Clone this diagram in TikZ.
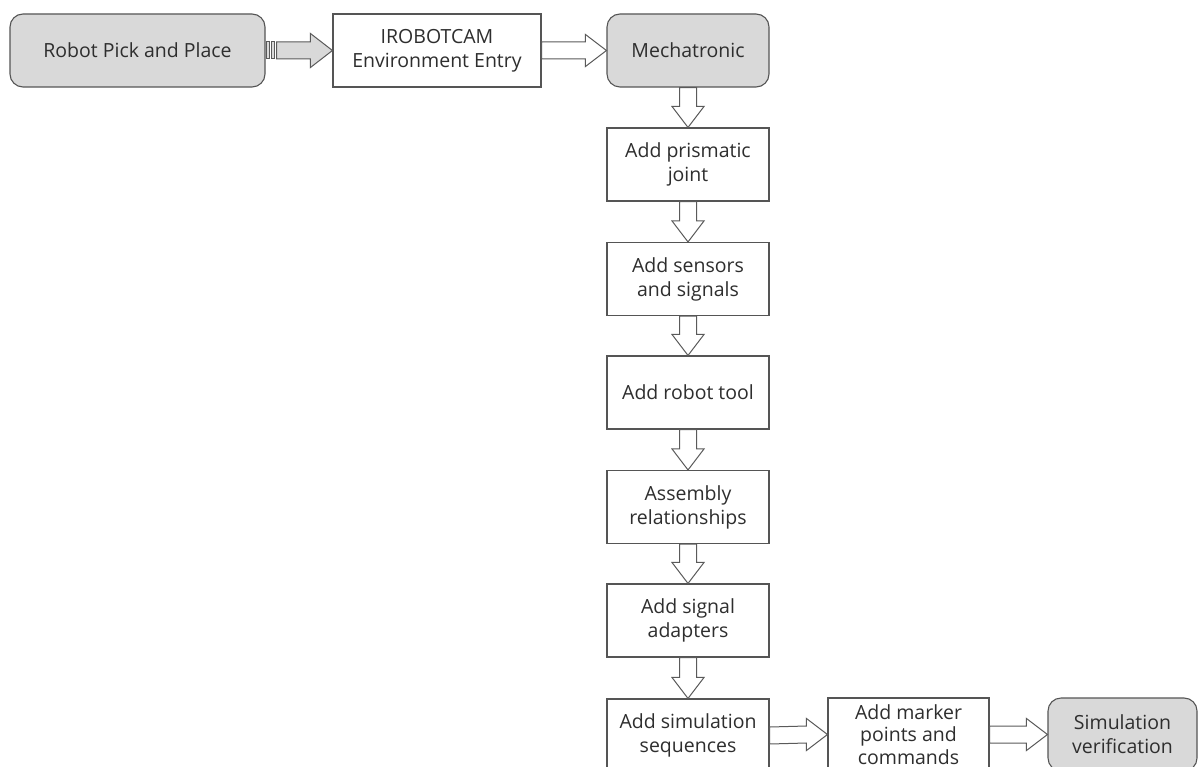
\documentclass[tikz,border=0pt]{standalone}
\usepackage{fontspec}
\setmainfont{Open Sans}
\usetikzlibrary{calc}
\definecolor{boxline}{HTML}{555555}
\definecolor{boxgray}{HTML}{D9D9D9}
\definecolor{arrline}{HTML}{5A5A5A}
\definecolor{txt}{HTML}{2E2E2E}
\tikzset{
  base/.style={draw=boxline, line width=1.1pt, align=center, text=txt,
    font=\fontsize{19.5}{24}\selectfont, inner sep=0pt, anchor=center},
  stepbox/.style={base, fill=white, rectangle},
  endbox/.style={base, fill=boxgray, rounded corners=13pt},
  blockarrow/.style={draw=arrline, line width=1pt, fill=white, line join=miter},
  stripearrow/.style={draw=arrline, line width=1pt, fill=boxgray},
}
% horizontal block arrow from #1.east to #2.west
\newcommand{\harrow}[2]{%
  \draw[blockarrow] ($(#1.east)+(0,-8.5)$) -- ($(#2.west)+(-21,-8.5)$)
    -- ($(#2.west)+(-21,-16)$) -- (#2.west) -- ($(#2.west)+(-21,16)$)
    -- ($(#2.west)+(-21,8.5)$) -- ($(#1.east)+(0,8.5)$) -- cycle;}
% vertical block arrow from #1.south to #2.north
\newcommand{\varrow}[2]{%
  \draw[blockarrow] ($(#1.south)+(-8.5,0)$) -- ($(#2.north)+(-8.5,-21)$)
    -- ($(#2.north)+(-16,-21)$) -- (#2.north) -- ($(#2.north)+(16,-21)$)
    -- ($(#2.north)+(8.5,-21)$) -- ($(#1.south)+(8.5,0)$) -- cycle;}
\begin{document}
\begin{tikzpicture}[x=1pt, y=-1pt]
\clip (0,0) rectangle (1198,767);
\fill[white] (0,0) rectangle (1198,767);

% top row
\node[endbox, minimum width=255pt, minimum height=73pt] (pick) at (137.5,50.5) {Robot Pick and Place};
\node[stepbox, minimum width=208pt, minimum height=73pt] (entry) at (437,50.5) {IROBOTCAM\\Environment Entry};
\node[endbox, minimum width=162pt, minimum height=73pt] (mech) at (688,50.5) {Mechatronic};

% vertical column
\node[stepbox, minimum width=162pt, minimum height=73pt] (prism) at (688,164.5) {Add prismatic\\joint};
\node[stepbox, minimum width=162pt, minimum height=73pt] (sens) at (688,279) {Add sensors\\and signals};
\node[stepbox, minimum width=162pt, minimum height=73pt] (tool) at (688,392.5) {Add robot tool};
\node[stepbox, minimum width=162pt, minimum height=73pt] (asm) at (688,507) {Assembly\\relationships};
\node[stepbox, minimum width=162pt, minimum height=73pt] (adapt) at (688,620.5) {Add signal\\adapters};
\node[stepbox, minimum width=162pt, minimum height=73pt] (seq) at (688,735.5) {Add simulation\\sequences};

% bottom row
\node[stepbox, minimum width=161pt, minimum height=73pt,
  font=\fontsize{19.5}{22.5}\selectfont] (marker) at (908.5,734.5) {Add marker\\points and\\commands};
\node[endbox, minimum width=149pt, minimum height=73pt] (verif) at (1122.5,734.5) {Simulation\\verification};

% striped arrow: two bars, then the shaft and head
\coordinate (st) at ($(pick.east)+(1,0)$);
\draw[stripearrow] ($(st)+(0,-8.5)$) rectangle ($(st)+(2.5,8.5)$);
\draw[stripearrow] ($(st)+(4.5,-8.5)$) rectangle ($(st)+(7.5,8.5)$);
\draw[stripearrow] ($(st)+(10,-8.5)$) -- ($(entry.west)+(-22,-8.5)$)
  -- ($(entry.west)+(-22,-17)$) -- (entry.west) -- ($(entry.west)+(-22,17)$)
  -- ($(entry.west)+(-22,8.5)$) -- ($(st)+(10,8.5)$) -- cycle;

\harrow{entry}{mech}
\varrow{mech}{prism}
\varrow{prism}{sens}
\varrow{sens}{tool}
\varrow{tool}{asm}
\varrow{asm}{adapt}
\varrow{adapt}{seq}
\harrow{seq}{marker}
\harrow{marker}{verif}
\end{tikzpicture}
\end{document}
